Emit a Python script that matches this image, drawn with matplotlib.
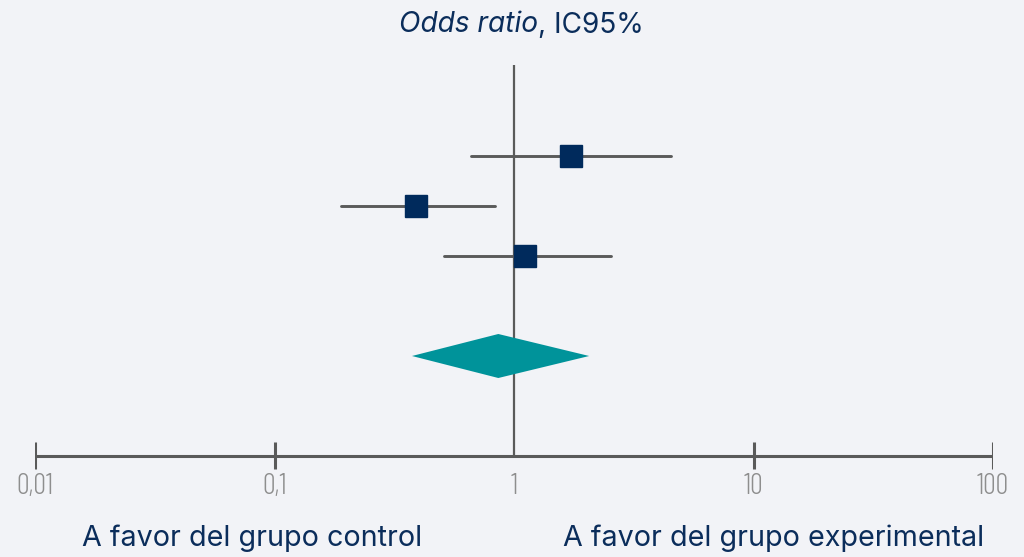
import matplotlib
matplotlib.use("Agg")
import matplotlib.pyplot as plt
from matplotlib.offsetbox import TextArea, HPacker, AnchoredOffsetbox
from matplotlib import font_manager

# Data
studies = ["Estudio 1", "Estudio 2", "Estudio 3"]
odds_ratio = [1.73, 0.39, 1.11]
ci_low = [0.66, 0.19, 0.51]
ci_high = [4.52, 0.83, 2.54]
pooled_or = 0.86
pooled_low = 0.375
pooled_high = 2.06
tick_values = [0.01, 0.1, 1, 10, 100]
tick_labels = ["0,01", "0,1", "1", "10", "100"]
left_label = "A favor del grupo control"
right_label = "A favor del grupo experimental"

bg = "#f2f3f7"
navy = "#002a5c"
text_navy = "#0b2d5b"
teal = "#00939a"
gray = "#5a5a5a"

names = {f.name for f in font_manager.fontManager.ttflist}
def pick(*cands):
    for c in cands:
        if c in names:
            return c
    return "DejaVu Sans"
narrow = pick("Barlow Condensed", "Roboto Condensed", "DejaVu Sans")
main_font = pick("Inter", "Roboto", "DejaVu Sans")

fig = plt.figure(figsize=(10.24, 5.57), dpi=100, facecolor=bg)
ax = fig.add_axes([35 / 1024, 0, 958 / 1024, 1])
ax.set_facecolor(bg)
ax.set_xscale("log")
ax.set_xlim(0.01, 100)
ax.set_ylim(9.02, -2.12)
ax.axis("off")

rows = list(range(1, len(studies) + 1))
pooled_y = len(studies) + 2
axis_y = pooled_y + 2

# reference vertical line
ax.plot([1, 1], [-0.82, axis_y], color=gray, lw=1.6, zorder=2, solid_capstyle="butt")

# CI lines and squares
for y, o, lo, hi in zip(rows, odds_ratio, ci_low, ci_high):
    ax.plot([lo, hi], [y, y], color=gray, lw=2.1, zorder=3, solid_capstyle="round")
    ax.plot([o], [y], marker="s", ms=16, color=navy, mec=navy, zorder=4, ls="none")

# diamond
h = 0.44
ax.fill([pooled_low, pooled_or, pooled_high, pooled_or],
        [pooled_y, pooled_y - h, pooled_y, pooled_y + h],
        color=teal, zorder=3, lw=0)

# horizontal axis
ax.plot([tick_values[0], tick_values[-1]], [axis_y, axis_y], color=gray, lw=2.2, zorder=2,
        solid_capstyle="butt")
for v, lab in zip(tick_values, tick_labels):
    if v != 1:
        ax.plot([v, v], [axis_y - 0.28, axis_y + 0.26], color=gray, lw=2.2, zorder=2,
                solid_capstyle="butt")
    ax.text(v, axis_y + 0.6, lab, ha="center", va="center", fontsize=20.5,
            family=narrow, color="#8e8e8e", fontweight=300)

# bottom labels, fit width
renderer = fig.canvas.get_renderer()
fs = 21
tl = fig.text(252 / 1024, 1 - 538 / 557, left_label, ha="center", va="center", fontsize=fs,
              family=main_font, color=text_navy)
w = tl.get_window_extent(renderer).width
fs = fs * 340 / w
tl.set_fontsize(fs)
fig.text(774 / 1024, 1 - 538 / 557, right_label, ha="center", va="center", fontsize=fs,
         family=main_font, color=text_navy)

# title with italic part
t1 = TextArea("Odds ratio", textprops=dict(fontsize=20.2, style="italic", family=main_font, color=text_navy))
t2 = TextArea(", IC95%", textprops=dict(fontsize=20.2, family=main_font, color=text_navy))
pack = HPacker(children=[t1, t2], pad=0, sep=0, align="baseline")
ab = AnchoredOffsetbox(loc="center", child=pack, frameon=False,
                       bbox_to_anchor=(521 / 1024, 1 - 25 / 557), bbox_transform=fig.transFigure,
                       pad=0, borderpad=0)
fig.add_artist(ab)

fig.savefig("out.png", dpi=100, facecolor=bg)
